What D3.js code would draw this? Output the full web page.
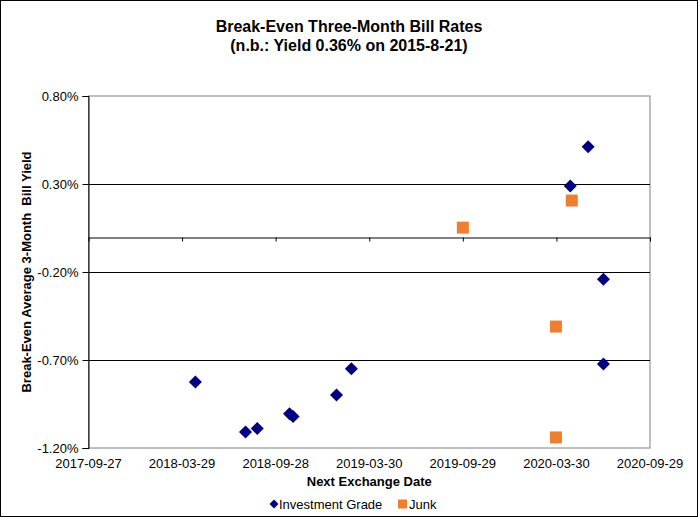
<!DOCTYPE html>
<html>
<head>
<meta charset="utf-8">
<script src="https://cdn.jsdelivr.net/npm/d3@7/dist/d3.min.js"></script>
<style>
  html, body { margin: 0; padding: 0; background: #fff; }
  svg { display: block; font-family: "Liberation Sans", Arial, sans-serif; }
</style>
</head>
<body>
<svg id="chart" width="698" height="517"></svg>
<script>
// ---- data ----
const xTickLabels = ["2017-09-27","2018-03-29","2018-09-28","2019-03-30","2019-09-29","2020-03-30","2020-09-29"];
const yTickValues = [0.80, 0.30, -0.20, -0.70, -1.20];

const igDates  = ["2018-04-24","2018-07-31","2018-08-23","2018-10-25","2018-11-01","2019-01-25","2019-02-23","2020-04-26","2020-05-31","2020-06-30","2020-06-30"];
const igYields = [-0.825, -1.109, -1.089, -1.005, -1.021, -0.899, -0.750, 0.289, 0.512, -0.241, -0.723];

const junkDates  = ["2019-09-29","2020-04-29","2020-03-29","2020-03-29"];
const junkYields = [0.052, 0.206, -0.510, -1.140];

const titleLines = ["Break-Even Three-Month Bill Rates", "(n.b.: Yield 0.36% on 2015-8-21)"];
const yTitle = "Break-Even Average 3-Month\u00a0\u00a0Bill Yield";
const xTitle = "Next Exchange Date";
const seriesNames = ["Investment Grade", "Junk"];

// ---- layout ----
const W = 698, H = 517;
const plot = { left: 88.5, right: 650, top: 96, bottom: 448 };
const navy = "#000080", orange = "#EE7F30";

const parse = d3.utcParse("%Y-%m-%d");
const svg = d3.select("#chart");

svg.append("rect").attr("x", 0.5).attr("y", 0.5).attr("width", W - 1).attr("height", H - 1)
  .attr("fill", "#fff").attr("stroke", "#000").attr("stroke-width", 1);

const x = d3.scaleUtc()
  .domain([parse(xTickLabels[0]), parse(xTickLabels[xTickLabels.length - 1])])
  .range([plot.left, plot.right]);
const y = d3.scaleLinear()
  .domain([yTickValues[yTickValues.length - 1], yTickValues[0]])
  .range([plot.bottom, plot.top]);

// plot area border (gray)
svg.append("rect")
  .attr("x", plot.left).attr("y", plot.top)
  .attr("width", plot.right - plot.left).attr("height", plot.bottom - plot.top)
  .attr("fill", "none").attr("stroke", "#808080").attr("stroke-width", 1);

// gridlines
svg.append("g")
  .selectAll("line")
  .data(yTickValues.slice(1, -1))
  .join("line")
  .attr("x1", plot.left).attr("x2", plot.right)
  .attr("y1", d => Math.round(y(d)) + 0.5).attr("y2", d => Math.round(y(d)) + 0.5)
  .attr("stroke", "#000").attr("stroke-width", 1);

// y axis
const yAxis = svg.append("g")
  .attr("transform", `translate(${plot.left},0)`)
  .call(d3.axisLeft(y).tickValues(yTickValues).tickSize(6).tickPadding(4)
    .tickFormat(d => d.toFixed(2) + "%"));
yAxis.select(".domain").attr("stroke", "#000");
yAxis.selectAll(".tick line").attr("stroke", "#000");
yAxis.selectAll("text").attr("font-size", 13).attr("fill", "#000")
  .attr("font-family", "Liberation Sans, Arial, sans-serif");

// x axis line at zero with downward ticks
const xTickDates = xTickLabels.map(parse);
const xAxis = svg.append("g")
  .attr("transform", `translate(0,${Math.round(y(0)) + 0.5})`)
  .call(d3.axisBottom(x).tickValues(xTickDates).tickSize(4).tickSizeOuter(0).tickFormat(""));
xAxis.select(".domain").attr("stroke", "#000");
xAxis.selectAll(".tick line").attr("stroke", "#000");

// x tick labels at bottom
svg.append("g")
  .selectAll("text")
  .data(xTickLabels)
  .join("text")
  .attr("x", d => x(parse(d)))
  .attr("y", 468)
  .attr("text-anchor", "middle")
  .attr("font-size", 13)
  .attr("fill", "#000")
  .text(d => d);

// titles
svg.append("g").selectAll("text")
  .data(titleLines)
  .join("text")
  .attr("x", 349).attr("y", (d, i) => 32 + i * 19)
  .attr("text-anchor", "middle")
  .attr("font-size", 16).attr("font-weight", "bold")
  .text(d => d);

svg.append("text")
  .attr("transform", `translate(31,${(plot.top + plot.bottom) / 2}) rotate(-90)`)
  .attr("text-anchor", "middle")
  .attr("font-size", 13).attr("font-weight", "bold")
  .text(yTitle);

svg.append("text")
  .attr("x", (plot.left + plot.right) / 2).attr("y", 486)
  .attr("text-anchor", "middle")
  .attr("font-size", 13).attr("font-weight", "bold")
  .text(xTitle);

// markers
const diamond = s => `M0,${-s}L${s},0L0,${s}L${-s},0Z`;
const ig = igDates.map((d, i) => ({ date: parse(d), v: igYields[i] }));
const junk = junkDates.map((d, i) => ({ date: parse(d), v: junkYields[i] }));

svg.append("g").selectAll("rect")
  .data(junk)
  .join("rect")
  .attr("x", d => x(d.date) - 6).attr("y", d => y(d.v) - 6)
  .attr("width", 12).attr("height", 12)
  .attr("fill", orange);

svg.append("g").selectAll("path")
  .data(ig)
  .join("path")
  .attr("transform", d => `translate(${x(d.date)},${y(d.v)})`)
  .attr("d", diamond(6.5))
  .attr("fill", navy);

// legend
const lg = svg.append("g");
lg.append("path").attr("transform", "translate(274,504)").attr("d", diamond(4.5)).attr("fill", navy);
lg.append("text").attr("x", 279).attr("y", 509).attr("font-size", 13).text(seriesNames[0]);
lg.append("rect").attr("x", 398).attr("y", 499.5).attr("width", 9).attr("height", 9).attr("fill", orange);
lg.append("text").attr("x", 409).attr("y", 509).attr("font-size", 13).text(seriesNames[1]);
</script>
</body>
</html>
